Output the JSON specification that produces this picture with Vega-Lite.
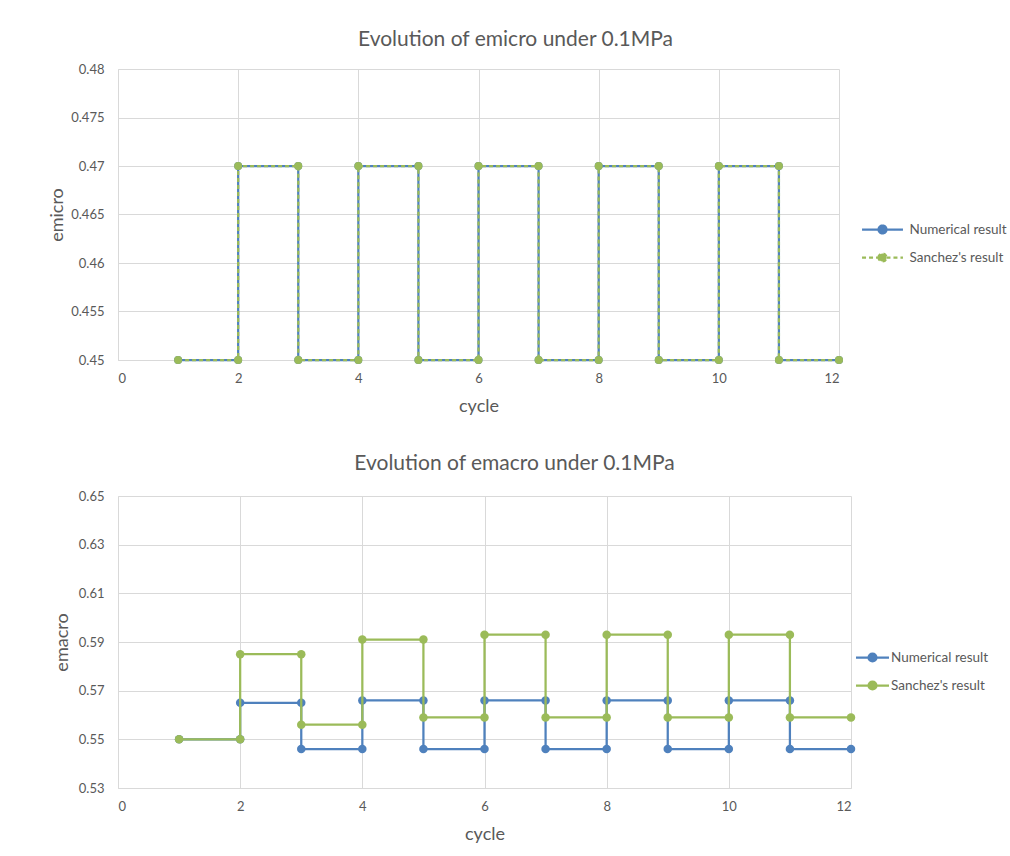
{
  "$schema": "https://vega.github.io/schema/vega-lite/v6.json",
  "background": "white",
  "padding": {"left": 48, "top": 29, "right": 0, "bottom": 0},
  "config": {
    "font": "Lato",
    "view": {"stroke": null},
    "title": {"fontSize": 21, "fontWeight": "normal", "color": "#595959", "font": "Lato", "offset": 13},
    "axis": {
      "labelFont": "Lato", "labelFontSize": 13, "labelColor": "#595959",
      "titleFont": "Lato", "titleFontSize": 18, "titleColor": "#595959", "titleFontWeight": "normal",
      "gridColor": "#d9d9d9", "gridWidth": 1, "domainColor": "#d9d9d9", "ticks": false
    },
    "axisX": {"labelPadding": 12, "titlePadding": 12},
    "axisY": {"labelPadding": 14, "titlePadding": 4},
    "legend": {"labelFont": "Lato", "labelFontSize": 13.5, "labelColor": "#595959", "padding": 0}
  },
  "datasets": {
    "micro": [
      {"series": "Numerical result", "i": 1, "cycle": 1, "e": 0.45},
      {"series": "Numerical result", "i": 2, "cycle": 2, "e": 0.45},
      {"series": "Numerical result", "i": 3, "cycle": 2, "e": 0.47},
      {"series": "Numerical result", "i": 4, "cycle": 3, "e": 0.47},
      {"series": "Numerical result", "i": 5, "cycle": 3, "e": 0.45},
      {"series": "Numerical result", "i": 6, "cycle": 4, "e": 0.45},
      {"series": "Numerical result", "i": 7, "cycle": 4, "e": 0.47},
      {"series": "Numerical result", "i": 8, "cycle": 5, "e": 0.47},
      {"series": "Numerical result", "i": 9, "cycle": 5, "e": 0.45},
      {"series": "Numerical result", "i": 10, "cycle": 6, "e": 0.45},
      {"series": "Numerical result", "i": 11, "cycle": 6, "e": 0.47},
      {"series": "Numerical result", "i": 12, "cycle": 7, "e": 0.47},
      {"series": "Numerical result", "i": 13, "cycle": 7, "e": 0.45},
      {"series": "Numerical result", "i": 14, "cycle": 8, "e": 0.45},
      {"series": "Numerical result", "i": 15, "cycle": 8, "e": 0.47},
      {"series": "Numerical result", "i": 16, "cycle": 9, "e": 0.47},
      {"series": "Numerical result", "i": 17, "cycle": 9, "e": 0.45},
      {"series": "Numerical result", "i": 18, "cycle": 10, "e": 0.45},
      {"series": "Numerical result", "i": 19, "cycle": 10, "e": 0.47},
      {"series": "Numerical result", "i": 20, "cycle": 11, "e": 0.47},
      {"series": "Numerical result", "i": 21, "cycle": 11, "e": 0.45},
      {"series": "Numerical result", "i": 22, "cycle": 12, "e": 0.45},
      {"series": "Sanchez's result", "i": 1, "cycle": 1, "e": 0.45},
      {"series": "Sanchez's result", "i": 2, "cycle": 2, "e": 0.45},
      {"series": "Sanchez's result", "i": 3, "cycle": 2, "e": 0.47},
      {"series": "Sanchez's result", "i": 4, "cycle": 3, "e": 0.47},
      {"series": "Sanchez's result", "i": 5, "cycle": 3, "e": 0.45},
      {"series": "Sanchez's result", "i": 6, "cycle": 4, "e": 0.45},
      {"series": "Sanchez's result", "i": 7, "cycle": 4, "e": 0.47},
      {"series": "Sanchez's result", "i": 8, "cycle": 5, "e": 0.47},
      {"series": "Sanchez's result", "i": 9, "cycle": 5, "e": 0.45},
      {"series": "Sanchez's result", "i": 10, "cycle": 6, "e": 0.45},
      {"series": "Sanchez's result", "i": 11, "cycle": 6, "e": 0.47},
      {"series": "Sanchez's result", "i": 12, "cycle": 7, "e": 0.47},
      {"series": "Sanchez's result", "i": 13, "cycle": 7, "e": 0.45},
      {"series": "Sanchez's result", "i": 14, "cycle": 8, "e": 0.45},
      {"series": "Sanchez's result", "i": 15, "cycle": 8, "e": 0.47},
      {"series": "Sanchez's result", "i": 16, "cycle": 9, "e": 0.47},
      {"series": "Sanchez's result", "i": 17, "cycle": 9, "e": 0.45},
      {"series": "Sanchez's result", "i": 18, "cycle": 10, "e": 0.45},
      {"series": "Sanchez's result", "i": 19, "cycle": 10, "e": 0.47},
      {"series": "Sanchez's result", "i": 20, "cycle": 11, "e": 0.47},
      {"series": "Sanchez's result", "i": 21, "cycle": 11, "e": 0.45},
      {"series": "Sanchez's result", "i": 22, "cycle": 12, "e": 0.45}
    ],
    "macro": [
      {"series": "Numerical result", "i": 1, "cycle": 1, "e": 0.55},
      {"series": "Numerical result", "i": 2, "cycle": 2, "e": 0.55},
      {"series": "Numerical result", "i": 3, "cycle": 2, "e": 0.565},
      {"series": "Numerical result", "i": 4, "cycle": 3, "e": 0.565},
      {"series": "Numerical result", "i": 5, "cycle": 3, "e": 0.546},
      {"series": "Numerical result", "i": 6, "cycle": 4, "e": 0.546},
      {"series": "Numerical result", "i": 7, "cycle": 4, "e": 0.566},
      {"series": "Numerical result", "i": 8, "cycle": 5, "e": 0.566},
      {"series": "Numerical result", "i": 9, "cycle": 5, "e": 0.546},
      {"series": "Numerical result", "i": 10, "cycle": 6, "e": 0.546},
      {"series": "Numerical result", "i": 11, "cycle": 6, "e": 0.566},
      {"series": "Numerical result", "i": 12, "cycle": 7, "e": 0.566},
      {"series": "Numerical result", "i": 13, "cycle": 7, "e": 0.546},
      {"series": "Numerical result", "i": 14, "cycle": 8, "e": 0.546},
      {"series": "Numerical result", "i": 15, "cycle": 8, "e": 0.566},
      {"series": "Numerical result", "i": 16, "cycle": 9, "e": 0.566},
      {"series": "Numerical result", "i": 17, "cycle": 9, "e": 0.546},
      {"series": "Numerical result", "i": 18, "cycle": 10, "e": 0.546},
      {"series": "Numerical result", "i": 19, "cycle": 10, "e": 0.566},
      {"series": "Numerical result", "i": 20, "cycle": 11, "e": 0.566},
      {"series": "Numerical result", "i": 21, "cycle": 11, "e": 0.546},
      {"series": "Numerical result", "i": 22, "cycle": 12, "e": 0.546},
      {"series": "Sanchez's result", "i": 1, "cycle": 1, "e": 0.55},
      {"series": "Sanchez's result", "i": 2, "cycle": 2, "e": 0.55},
      {"series": "Sanchez's result", "i": 3, "cycle": 2, "e": 0.585},
      {"series": "Sanchez's result", "i": 4, "cycle": 3, "e": 0.585},
      {"series": "Sanchez's result", "i": 5, "cycle": 3, "e": 0.556},
      {"series": "Sanchez's result", "i": 6, "cycle": 4, "e": 0.556},
      {"series": "Sanchez's result", "i": 7, "cycle": 4, "e": 0.591},
      {"series": "Sanchez's result", "i": 8, "cycle": 5, "e": 0.591},
      {"series": "Sanchez's result", "i": 9, "cycle": 5, "e": 0.559},
      {"series": "Sanchez's result", "i": 10, "cycle": 6, "e": 0.559},
      {"series": "Sanchez's result", "i": 11, "cycle": 6, "e": 0.593},
      {"series": "Sanchez's result", "i": 12, "cycle": 7, "e": 0.593},
      {"series": "Sanchez's result", "i": 13, "cycle": 7, "e": 0.559},
      {"series": "Sanchez's result", "i": 14, "cycle": 8, "e": 0.559},
      {"series": "Sanchez's result", "i": 15, "cycle": 8, "e": 0.593},
      {"series": "Sanchez's result", "i": 16, "cycle": 9, "e": 0.593},
      {"series": "Sanchez's result", "i": 17, "cycle": 9, "e": 0.559},
      {"series": "Sanchez's result", "i": 18, "cycle": 10, "e": 0.559},
      {"series": "Sanchez's result", "i": 19, "cycle": 10, "e": 0.593},
      {"series": "Sanchez's result", "i": 20, "cycle": 11, "e": 0.593},
      {"series": "Sanchez's result", "i": 21, "cycle": 11, "e": 0.559},
      {"series": "Sanchez's result", "i": 22, "cycle": 12, "e": 0.559}
    ]
  },
  "spacing": 38,
  "align": "none",
  "resolve": {"scale": {"color": "independent", "strokeDash": "independent"}, "legend": {"color": "independent", "strokeDash": "independent"}},
  "vconcat": [
    {
      "width": 721,
      "height": 291,
      "title": {"text": "Evolution of emicro under 0.1MPa", "dx": 37},
      "data": {"name": "micro"},
      "encoding": {
        "x": {"field": "cycle", "type": "quantitative", "scale": {"domain": [0, 12], "nice": false}, "axis": {"values": [0, 2, 4, 6, 8, 10, 12], "title": "cycle"}},
        "y": {"field": "e", "type": "quantitative", "scale": {"domain": [0.45, 0.48], "nice": false, "zero": false}, "axis": {"values": [0.45, 0.455, 0.46, 0.465, 0.47, 0.475, 0.48], "format": "~g", "title": "emicro"}},
        "color": {"field": "series", "type": "nominal", "scale": {"domain": ["Numerical result", "Sanchez's result"], "range": ["#4F81BD", "#9BBB59"]},
          "legend": {"title": null, "orient": "none", "legendX": 752, "legendY": 148, "symbolType": "M-1.86,0H-0.36M0.36,0H1.86M-0.36,0A0.36,0.36,0,1,1,0.36,0A0.36,0.36,0,1,1,-0.36,0Z", "symbolSize": 484, "symbolStrokeWidth": 2.25, "labelOffset": 14.5, "rowPadding": 7}},
        "order": {"field": "i", "type": "quantitative"}
      },
      "layer": [
        {"transform": [{"filter": "datum.series === 'Numerical result'"}], "mark": {"type": "line", "strokeWidth": 2.25},
          "encoding": {"strokeDash": {"field": "series", "type": "nominal", "scale": {"domain": ["Numerical result", "Sanchez's result"], "range": [[1, 0], [4, 3]]},
            "legend": {"title": null, "orient": "none", "legendX": 752, "legendY": 148, "symbolType": "M-1.86,0H-0.36M0.36,0H1.86M-0.36,0A0.36,0.36,0,1,1,0.36,0A0.36,0.36,0,1,1,-0.36,0Z", "symbolSize": 484, "symbolStrokeWidth": 2.25, "labelOffset": 14.5, "rowPadding": 7}}}},
        {"transform": [{"filter": "datum.series === 'Numerical result'"}], "mark": {"type": "point", "filled": true, "size": 64, "opacity": 1}},
        {"transform": [{"filter": "datum.series !== 'Numerical result'"}], "mark": {"type": "line", "strokeWidth": 2.25},
          "encoding": {"strokeDash": {"field": "series", "type": "nominal", "scale": {"domain": ["Numerical result", "Sanchez's result"], "range": [[1, 0], [4, 3]]},
            "legend": {"title": null, "orient": "none", "legendX": 752, "legendY": 148, "symbolType": "M-1.86,0H-0.36M0.36,0H1.86M-0.36,0A0.36,0.36,0,1,1,0.36,0A0.36,0.36,0,1,1,-0.36,0Z", "symbolSize": 484, "symbolStrokeWidth": 2.25, "labelOffset": 14.5, "rowPadding": 7}}}},
        {"transform": [{"filter": "datum.series !== 'Numerical result'"}], "mark": {"type": "point", "filled": true, "size": 64, "opacity": 1}}
      ]
    },
    {
      "width": 733,
      "height": 292,
      "title": {"text": "Evolution of emacro under 0.1MPa", "dx": 30, "offset": 16},
      "data": {"name": "macro"},
      "encoding": {
        "x": {"field": "cycle", "type": "quantitative", "scale": {"domain": [0, 12], "nice": false}, "axis": {"values": [0, 2, 4, 6, 8, 10, 12], "title": "cycle"}},
        "y": {"field": "e", "type": "quantitative", "scale": {"domain": [0.53, 0.65], "nice": false, "zero": false}, "axis": {"values": [0.53, 0.55, 0.57, 0.59, 0.61, 0.63, 0.65], "format": "~g", "title": "emacro", "titlePadding": 7}},
        "color": {"field": "series", "type": "nominal", "scale": {"domain": ["Numerical result", "Sanchez's result"], "range": ["#4F81BD", "#9BBB59"]},
          "legend": {"title": null, "orient": "none", "legendX": 742, "legendY": 149, "symbolType": "M-1.5,0H-0.36M0.36,0H1.5M-0.36,0A0.36,0.36,0,1,1,0.36,0A0.36,0.36,0,1,1,-0.36,0Z", "symbolSize": 484, "symbolStrokeWidth": 2.25, "labelOffset": 6, "rowPadding": 7}},
        "order": {"field": "i", "type": "quantitative"}
      },
      "layer": [
        {"transform": [{"filter": "datum.series === 'Numerical result'"}], "mark": {"type": "line", "strokeWidth": 2.25}},
        {"transform": [{"filter": "datum.series === 'Numerical result'"}], "mark": {"type": "point", "filled": true, "size": 72, "opacity": 1}},
        {"transform": [{"filter": "datum.series !== 'Numerical result'"}], "mark": {"type": "line", "strokeWidth": 2.25}},
        {"transform": [{"filter": "datum.series !== 'Numerical result'"}], "mark": {"type": "point", "filled": true, "size": 72, "opacity": 1}}
      ]
    }
  ]
}
